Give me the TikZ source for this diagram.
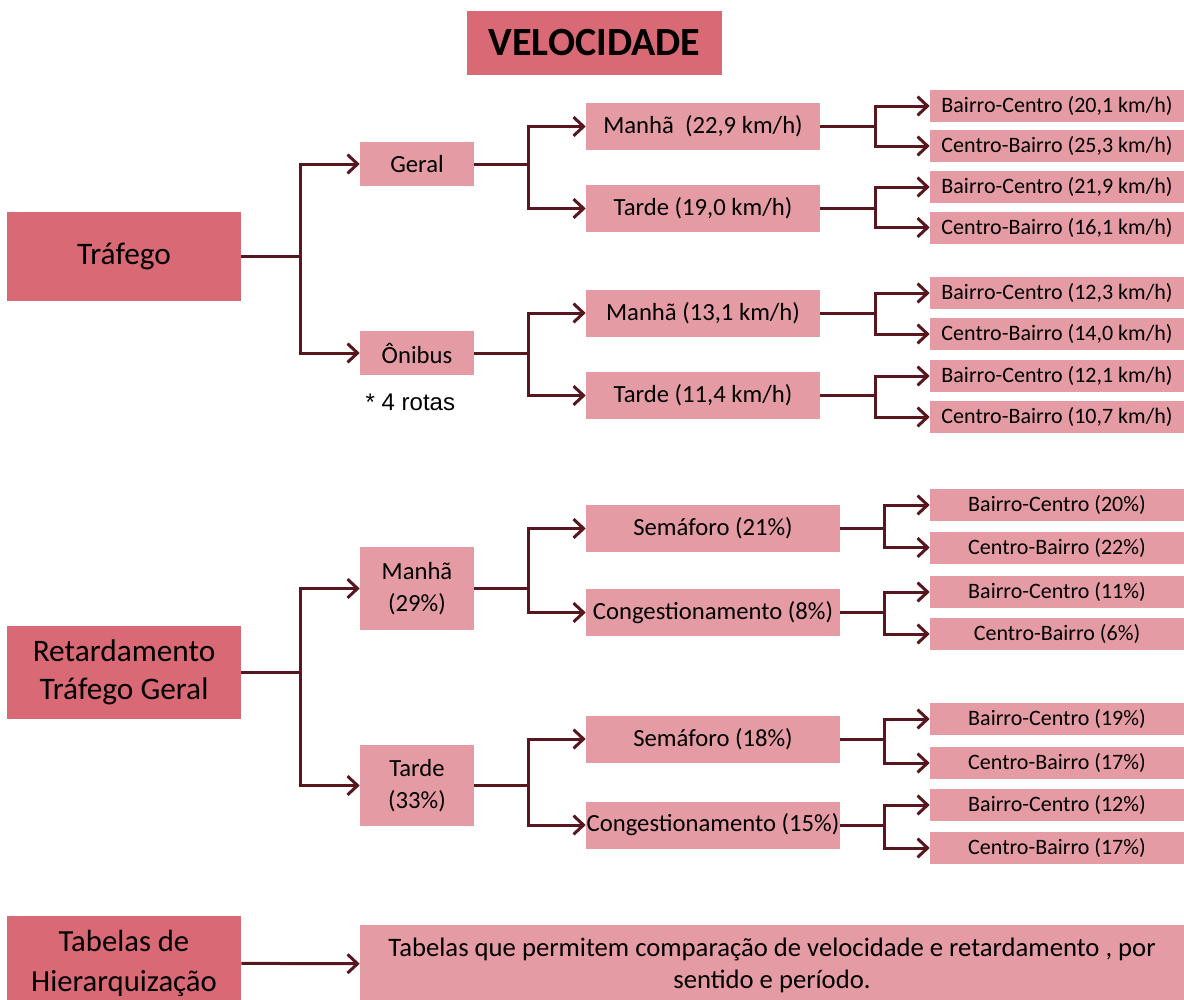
\documentclass[tikz,border=0pt]{standalone}
\usepackage{fontspec}
\setmainfont{Carlito}
\newfontfamily\arialfont{Liberation Sans}
\usepackage{tikz}
\usetikzlibrary{arrows.meta, positioning}
\definecolor{rosaescuro}{RGB}{217,105,116}
\definecolor{rosaclaro}{RGB}{229,155,164}
\definecolor{vinho}{RGB}{88,22,30}

\begin{document}
\begin{tikzpicture}[x=0.75pt,y=-0.75pt,
    principal/.style={rectangle,fill=rosaescuro,inner sep=0pt,minimum width=175.5pt,align=center,font=\fontsize{23.5}{28.5}\selectfont},
    ramo/.style={rectangle,fill=rosaclaro,inner sep=0pt,align=center,font=\fontsize{18.5}{24}\selectfont},
    folha/.style={rectangle,fill=rosaclaro,inner sep=0pt,minimum width=190.5pt,minimum height=24pt,font=\fontsize{16.5}{20}\selectfont},
    linha/.style={draw=vinho,line width=2.25pt},
    seta/.style={linha,-{Straight Barb[length=7.5pt,width=14pt]}}]
    \useasboundingbox (0,0) rectangle (1184,999);

    % Titulo
    \node[rectangle,fill=rosaescuro,minimum width=191.25pt,minimum height=48pt,font=\fontsize{30}{36}\selectfont\bfseries] (titulo) at (594.5,43) {VELOCIDADE};

    % Velocidade do trafego
    \node[principal,minimum height=66.75pt] (trafego) at (124,256.5) {Tráfego};
    \node[ramo,minimum width=85.5pt,minimum height=33pt] (geral) at (417,164) {Geral};
    \node[ramo,minimum width=85.5pt,minimum height=33pt] (onibus) at (417,353) {Ônibus};
    \node[anchor=west,font=\arialfont\fontsize{18}{22}\selectfont] (rotas) at (361,402) {* 4 rotas};

    \node[ramo,minimum width=175.5pt,minimum height=35.25pt] (gm) at (703,126.5) {Manhã\ \ (22,9 km/h)};
    \node[ramo,minimum width=175.5pt,minimum height=35.25pt] (gt) at (703,208.5) {Tarde (19,0 km/h)};
    \node[ramo,minimum width=175.5pt,minimum height=35.25pt] (om) at (703,313) {Manhã (13,1 km/h)};
    \node[ramo,minimum width=175.5pt,minimum height=35.25pt] (ot) at (703,395.5) {Tarde (11,4 km/h)};

    \node[folha] (f1) at (1057,106) {Bairro-Centro (20,1 km/h)};
    \node[folha] (f2) at (1057,146) {Centro-Bairro (25,3 km/h)};
    \node[folha] (f3) at (1057,187) {Bairro-Centro (21,9 km/h)};
    \node[folha] (f4) at (1057,227.5) {Centro-Bairro (16,1 km/h)};
    \node[folha] (f5) at (1057,293) {Bairro-Centro (12,3 km/h)};
    \node[folha] (f6) at (1057,334) {Centro-Bairro (14,0 km/h)};
    \node[folha] (f7) at (1057,376) {Bairro-Centro (12,1 km/h)};
    \node[folha] (f8) at (1057,417) {Centro-Bairro (10,7 km/h)};

    % Pontos de ramificacao
    \coordinate (j0) at (300,256.5);
    \coordinate (jg) at (528,164);
    \coordinate (jo) at (528,353);
    \coordinate (jgm) at (875,126.5);
    \coordinate (jgt) at (875,208.5);
    \coordinate (jom) at (875,313);
    \coordinate (jot) at (875,395.5);

    % Conexoes
    \draw[linha] (trafego) -- (j0);
    \draw[seta] (j0) |- (geral);
    \draw[seta] (j0) |- (onibus);
    \draw[linha] (geral) -- (jg);
    \draw[seta] (jg) |- (gm);
    \draw[seta] (jg) |- (gt);
    \draw[linha] (onibus) -- (jo);
    \draw[seta] (jo) |- (om);
    \draw[seta] (jo) |- (ot);
    \draw[linha] (gm) -- (jgm);
    \draw[seta] (jgm) |- (f1);
    \draw[seta] (jgm) |- (f2);
    \draw[linha] (gt) -- (jgt);
    \draw[seta] (jgt) |- (f3);
    \draw[seta] (jgt) |- (f4);
    \draw[linha] (om) -- (jom);
    \draw[seta] (jom) |- (f5);
    \draw[seta] (jom) |- (f6);
    \draw[linha] (ot) -- (jot);
    \draw[seta] (jot) |- (f7);
    \draw[seta] (jot) |- (f8);

    % Retardamento
    \node[principal,minimum height=69.75pt] (retard) at (124,672.5) {Retardamento\\Tráfego Geral};
    \node[ramo,minimum width=85.5pt,minimum height=62.25pt] (manha) at (417,588.5) {Manhã\\(29\%)};
    \node[ramo,minimum width=85.5pt,minimum height=60.75pt] (tarde) at (417,785.5) {Tarde\\(33\%)};

    \node[ramo,minimum width=190.5pt,minimum height=35.25pt] (sm) at (713,528.5) {Semáforo (21\%)};
    \node[ramo,minimum width=190.5pt,minimum height=35.25pt] (cm) at (713,612.5) {Congestionamento (8\%)};
    \node[ramo,minimum width=190.5pt,minimum height=35.25pt] (st) at (713,739) {Semáforo (18\%)};
    \node[ramo,minimum width=190.5pt,minimum height=35.25pt] (ct) at (713,825) {Congestionamento (15\%)};

    \node[folha] (r1) at (1057,505) {Bairro-Centro (20\%)};
    \node[folha] (r2) at (1057,547.5) {Centro-Bairro (22\%)};
    \node[folha] (r3) at (1057,592) {Bairro-Centro (11\%)};
    \node[folha] (r4) at (1057,634) {Centro-Bairro (6\%)};
    \node[folha] (r5) at (1057,719) {Bairro-Centro (19\%)};
    \node[folha] (r6) at (1057,763) {Centro-Bairro (17\%)};
    \node[folha] (r7) at (1057,805) {Bairro-Centro (12\%)};
    \node[folha] (r8) at (1057,848) {Centro-Bairro (17\%)};

    \coordinate (j1) at (300,672.5);
    \coordinate (jm) at (528,588.5);
    \coordinate (jt) at (528,785.5);
    \coordinate (jsm) at (884,528.5);
    \coordinate (jcm) at (884,612.5);
    \coordinate (jst) at (884,739);
    \coordinate (jct) at (884,825);

    \draw[linha] (retard) -- (j1);
    \draw[seta] (j1) |- (manha);
    \draw[seta] (j1) |- (tarde);
    \draw[linha] (manha) -- (jm);
    \draw[seta] (jm) |- (sm);
    \draw[seta] (jm) |- (cm);
    \draw[linha] (tarde) -- (jt);
    \draw[seta] (jt) |- (st);
    \draw[seta] (jt) |- (ct);
    \draw[linha] (sm) -- (jsm);
    \draw[seta] (jsm) |- (r1);
    \draw[seta] (jsm) |- (r2);
    \draw[linha] (cm) -- (jcm);
    \draw[seta] (jcm) |- (r3);
    \draw[seta] (jcm) |- (r4);
    \draw[linha] (st) -- (jst);
    \draw[seta] (jst) |- (r5);
    \draw[seta] (jst) |- (r6);
    \draw[linha] (ct) -- (jct);
    \draw[seta] (jct) |- (r7);
    \draw[seta] (jct) |- (r8);

    % Tabelas
    \node[principal,minimum height=70.5pt,font=\fontsize{23}{30}\selectfont] (tabelas) at (124,963) {Tabelas de\\Hierarquização};
    \node[ramo,minimum width=618pt,minimum height=60pt,font=\fontsize{20}{24}\selectfont] (desc) at (772,965) {Tabelas que permitem comparação de velocidade e retardamento , por\\sentido e período.};
    \draw[seta] (tabelas) -- (desc);
\end{tikzpicture}
\end{document}
